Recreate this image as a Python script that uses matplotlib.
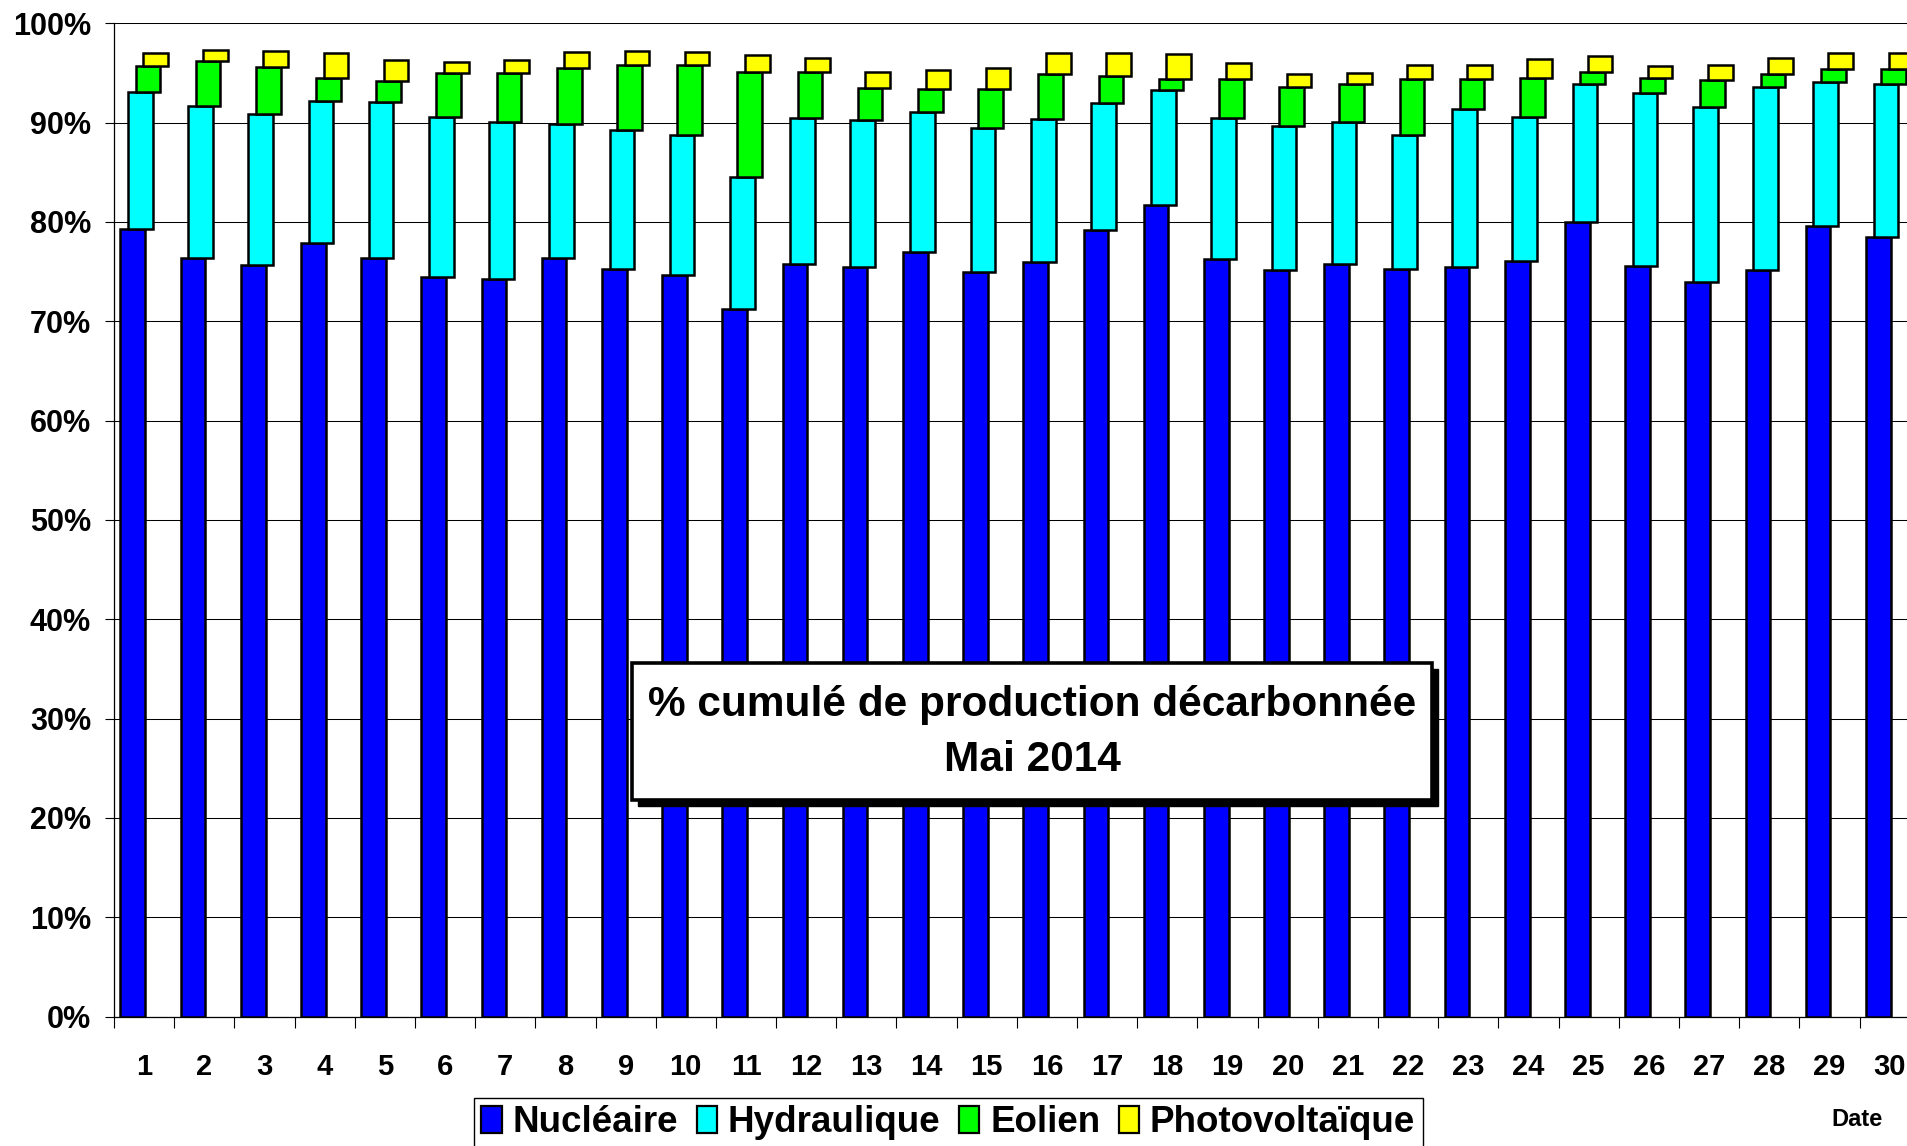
import matplotlib
matplotlib.use("Agg")
import numpy as np
import matplotlib.pyplot as plt
from matplotlib.patches import Rectangle, Patch
from matplotlib.ticker import FuncFormatter

plt.rcParams['font.family'] = ['Liberation Sans', 'DejaVu Sans']
plt.rcParams['font.weight'] = 'bold'

# daily shares of decarbonised production, May 2014 (%)
days = list(range(1, 31))
nucleaire = [79.3, 76.4, 75.7, 77.9, 76.4, 74.5, 74.3, 76.4, 75.3, 74.7,
             71.2, 75.8, 75.5, 77.0, 75.0, 76.0, 79.2, 81.7, 76.3, 75.2,
             75.8, 75.3, 75.5, 76.1, 80.0, 75.6, 74.0, 75.2, 79.6, 78.5]
hydraulique = [13.8, 15.3, 15.2, 14.3, 15.7, 16.1, 15.8, 13.5, 14.0, 14.1,
               13.3, 14.7, 14.8, 14.1, 14.5, 14.4, 12.8, 11.6, 14.2, 14.5,
               14.3, 13.5, 15.9, 14.5, 13.9, 17.4, 17.6, 18.4, 14.5, 15.4]
eolien = [2.6, 4.5, 4.7, 2.3, 2.1, 4.4, 4.9, 5.6, 6.5, 7.0,
          10.6, 4.6, 3.2, 2.3, 3.9, 4.5, 2.7, 1.1, 3.9, 3.9,
          3.8, 5.6, 3.0, 3.9, 1.2, 1.5, 2.7, 1.3, 1.3, 1.5]
photovoltaique = [1.3, 1.1, 1.6, 2.5, 2.1, 1.1, 1.3, 1.6, 1.4, 1.3,
                  1.7, 1.4, 1.6, 1.9, 2.1, 2.1, 2.3, 2.5, 1.6, 1.3,
                  1.1, 1.4, 1.4, 1.9, 1.6, 1.2, 1.5, 1.6, 1.6, 1.6]

series = [("Nucléaire", nucleaire, "#0000FF"),
          ("Hydraulique", hydraulique, "#00FFFF"),
          ("Eolien", eolien, "#00FF00"),
          ("Photovoltaïque", photovoltaique, "#FFFF00")]

W, H = 1907, 1146
fig = plt.figure(figsize=(W / 100, H / 100), dpi=100)
ax = fig.add_axes([114 / W, 1 - 1016.5 / H, (1919.7 - 114) / W, (1016.5 - 23.3) / H])

x = np.array(days, dtype=float)
bottom = np.zeros(len(days))
offsets = [-0.1875, -0.0625, 0.0625, 0.1875]
for (name, vals, col), off in zip(series, offsets):
    vals = np.array(vals)
    ax.bar(x + off, vals, width=0.41, bottom=bottom, color=col,
           edgecolor='black', linewidth=1.8, zorder=3)
    bottom = bottom + vals

ax.set_xlim(0.5, 30.5)
ax.set_ylim(0, 100)
ax.set_yticks(range(0, 101, 10))
ax.yaxis.set_major_formatter(FuncFormatter(lambda v, p: f"{v:.0f}%"))
ax.set_xticks(days)
ax.set_xticks(np.arange(0.5, 31, 1), minor=True)
ax.grid(axis='y', color='black', linewidth=0.75, zorder=0)
ax.set_axisbelow(True)

for s in ['top', 'right']:
    ax.spines[s].set_visible(False)
for s in ['left', 'bottom']:
    ax.spines[s].set_color('black')
    ax.spines[s].set_linewidth(0.9)

ax.tick_params(axis='y', length=6.5, width=0.8, pad=10, labelsize=22)
ax.tick_params(axis='x', which='major', length=0, pad=26, labelsize=21)
ax.tick_params(axis='x', which='minor', length=8, width=0.8)
for lab in ax.get_xticklabels() + ax.get_yticklabels():
    lab.set_fontweight('bold')

# title box with shadow
bx0, bx1, by0, by1 = 632, 1432, 663, 800
sh = 6
fig.add_artist(Rectangle(((bx0 + sh) / W, 1 - (by1 + sh) / H), (bx1 - bx0) / W, (by1 - by0) / H,
                         transform=fig.transFigure, facecolor='black', edgecolor='black', zorder=5))
fig.add_artist(Rectangle((bx0 / W, 1 - by1 / H), (bx1 - bx0) / W, (by1 - by0) / H,
                         transform=fig.transFigure, facecolor='white', edgecolor='black',
                         linewidth=2.6, zorder=6))
cx = (bx0 + bx1) / 2 / W
fig.text(cx, 1 - 705 / H, "% cumulé de production décarbonnée", ha='center', va='center',
         fontsize=30.5, fontweight='bold', zorder=7)
fig.text(cx, 1 - 760 / H, "Mai 2014", ha='center', va='center',
         fontsize=30.5, fontweight='bold', zorder=7)

fig.text(1857 / W, 1 - 1119 / H, "Date", ha='center', va='center', fontsize=17, fontweight='bold')

handles = [Patch(facecolor=c, edgecolor='black', linewidth=1.6) for _, _, c in series]
labels = [n for n, _, _ in series]
leg = fig.legend(handles, labels, loc='upper left', bbox_to_anchor=(474 / W, 1 - 1098 / H),
                 ncol=4, frameon=True, fancybox=False, edgecolor='black', framealpha=1,
                 prop={'size': 26.5, 'weight': 'bold'}, handlelength=0.55, handleheight=0.75,
                 handletextpad=0.3, columnspacing=0.5, borderpad=0.2, borderaxespad=0)
leg.get_frame().set_linewidth(1.0)

fig.savefig("out.png", dpi=100)
